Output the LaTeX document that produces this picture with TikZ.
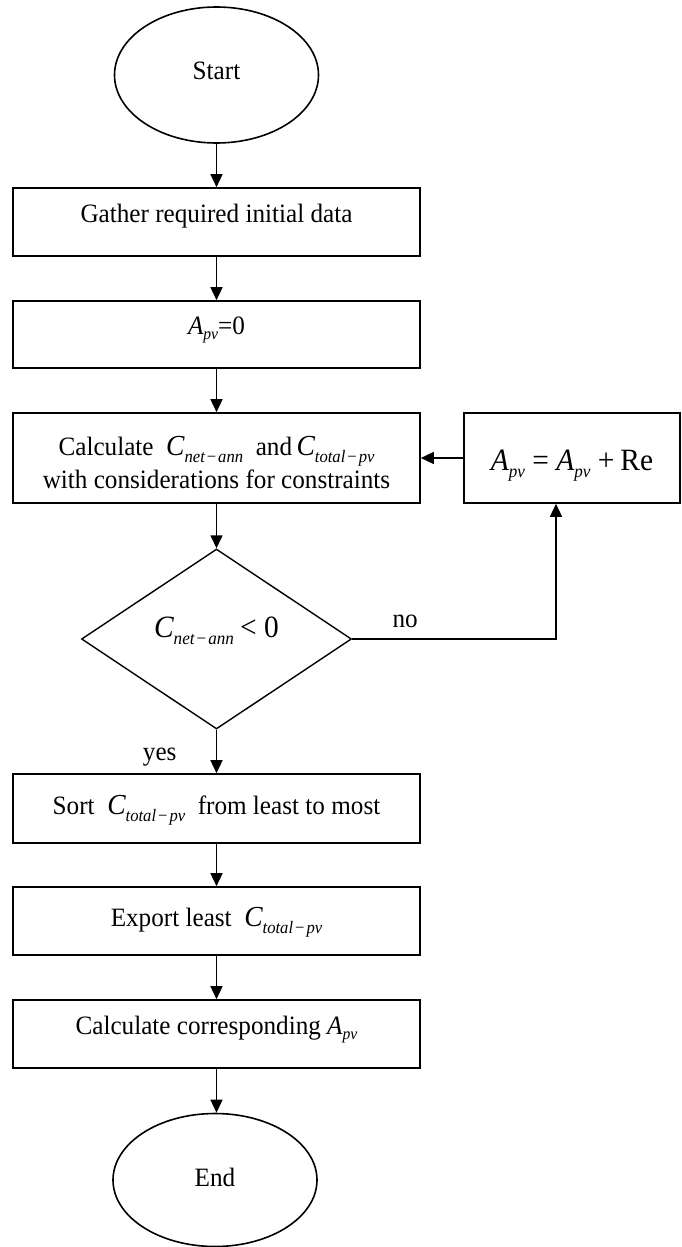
\documentclass[tikz,border=0pt]{standalone}
\usepackage{fontspec}
\setmainfont[FakeStretch=0.95]{Liberation Serif}
\usetikzlibrary{shapes.geometric,arrows.meta}
\newcommand{\mns}{\kern2pt{\upshape −}\kern2pt}
\newcommand{\sbs}[1]{\raisebox{-7pt}{\fontsize{17.5}{17.5}\selectfont\itshape #1}}
\newcommand{\mC}{{\fontsize{29}{29}\selectfont\itshape C}}
\newcommand{\Apv}{{\itshape A}\raisebox{-5pt}{\fontsize{16.5}{16.5}\selectfont\itshape pv}}
\begin{document}
\begin{tikzpicture}[x=1pt,y=-1pt,
  every node/.style={font=\fontsize{26.5}{33}\selectfont},
  procbox/.style={draw, rectangle, line width=1.6pt, minimum width=407pt, minimum height=68pt, inner sep=0pt},
  termin/.style={draw, ellipse, line width=1.6pt, minimum width=204pt, minimum height=136pt, inner sep=0pt},
  decis/.style={draw, diamond, shape aspect=1.5, line width=1.4pt, minimum width=270pt, minimum height=180pt, inner sep=0pt, text height=21pt, text depth=25pt},
  upper/.style={text height=18pt, text depth=18pt},
  lowmath/.style={text height=19pt, text depth=8pt},
  arr/.style={-{Triangle[length=13pt,width=12pt]}, line width=1.4pt}]
\useasboundingbox (0,0) rectangle (681,1247);

\node[termin, text height=17pt, text depth=9pt] (start) at (216.5,75) {Start};
\node[procbox, upper] (gather) at (216.5,222) {Gather required initial data};
\node[procbox, upper, minimum height=67pt] (init) at (216.5,334.5) {\Apv=0};
\node[procbox, minimum height=90pt, align=center] (calc) at (216.5,458)
  {\rule{0pt}{30pt}Calculate\ \ \mC\sbs{net\mns ann}\ \ and\,\mC\sbs{total\mns pv}\\with considerations for constraints\rule[-3pt]{0pt}{3pt}};
\node[procbox, minimum width=216pt, minimum height=90pt, text height=30pt, text depth=5pt] (upd) at (572,458)
  {\fontsize{31}{31}\selectfont\itshape A\raisebox{-7pt}{\fontsize{18}{18}\selectfont pv}\ {\upshape =}\ A\raisebox{-7pt}{\fontsize{18}{18}\selectfont pv}\ {\upshape +}\kern6pt{\upshape Re}};
\node[decis] (dec) at (216.5,639)
  {{\fontsize{31}{31}\selectfont\itshape C}\raisebox{-7pt}{\fontsize{18}{18}\selectfont\itshape net\mns ann}\ {\fontsize{31}{31}\selectfont <\ 0}};
\node[procbox, lowmath, minimum height=69pt] (sort) at (216.5,808.5) {Sort\ \ \mC\sbs{total\mns pv}\ \ from least to most};
\node[procbox, lowmath] (export) at (216.5,921) {Export least\ \ \mC\sbs{total\mns pv}};
\node[procbox, upper] (corr) at (216.5,1034) {Calculate corresponding \Apv};
\node[termin, text height=17pt, text depth=4pt, minimum height=133pt] (stop) at (215,1180) {End};

\coordinate (turn) at (556,639);

\draw[arr] (start.south) -- (gather.north);
\draw[arr] (gather.south) -- (init.north);
\draw[arr] (init.south) -- (calc.north);
\draw[arr] (upd.west) -- (calc.east);
\draw[arr] (calc.south) -- (dec.north);
\draw[arr] (dec.east) -- node[pos=0.26, above=7.7pt, inner sep=3.33pt]{no} (turn) -- (turn |- upd.south);
\draw[arr] (dec.south) -- node[pos=0.64, left=36pt, inner sep=3.33pt]{yes} (sort.north);
\draw[arr] (sort.south) -- (export.north);
\draw[arr] (export.south) -- (corr.north);
\draw[arr] (corr.south) -- (corr.south |- stop.north);
\end{tikzpicture}
\end{document}
